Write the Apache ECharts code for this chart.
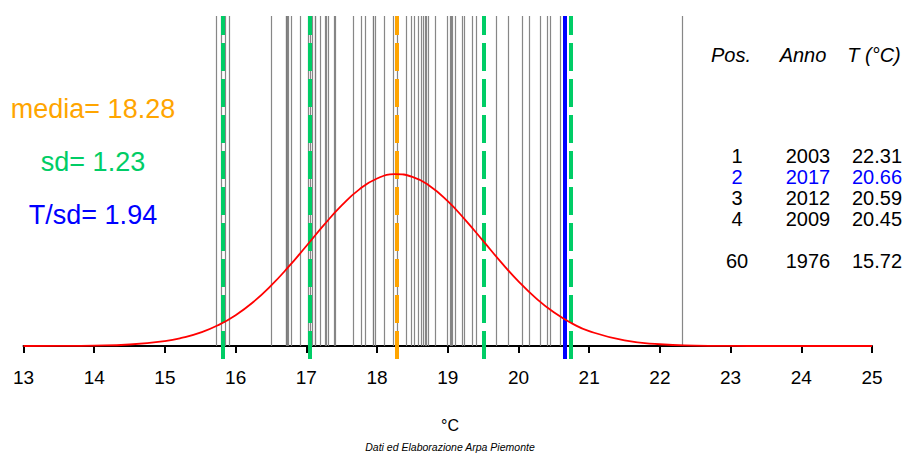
<!DOCTYPE html>
<html>
<head>
<meta charset="utf-8">
<script src="https://cdn.jsdelivr.net/npm/echarts@6/dist/echarts.min.js"></script>
<style>html,body{margin:0;padding:0;background:#fff}#c{width:908px;height:453px}</style>
</head>
<body>
<div id="c"></div>
<script>
// ---- data ----
const temps = [15.72, 15.80, 15.85, 15.91, 16.51, 16.71, 16.72, 16.73, 16.75, 16.79, 16.91,
  17.03, 17.05, 17.09, 17.12, 17.13, 17.20, 17.27, 17.28, 17.31, 17.40, 17.41, 17.66, 17.78,
  17.83, 17.94, 17.95, 17.98, 18.10, 18.23, 18.28, 18.41, 18.48, 18.53, 18.58, 18.63, 18.65,
  18.68, 18.70, 18.72, 18.82, 18.99, 19.03, 19.05, 19.07, 19.10, 19.21, 19.24, 19.34, 19.41,
  19.68, 19.86, 20.05, 20.15, 20.31, 20.41, 20.45, 20.59, 20.66, 22.31];
const curveX = [13, 13.5, 14, 14.5, 15, 15.25, 15.5, 15.75, 16, 16.25, 16.5, 16.75, 17, 17.25,
  17.5, 17.75, 18, 18.25, 18.5, 18.75, 19, 19.25, 19.5, 19.75, 20, 20.25, 20.5, 20.75, 21,
  21.5, 22, 22.5, 23, 23.5, 24, 25];
const curveY = [0.00003, 0.00017, 0.00076, 0.00289, 0.00926, 0.0156, 0.0252, 0.0391, 0.0582,
  0.0831, 0.1138, 0.1496, 0.1887, 0.2284, 0.2652, 0.2955, 0.3160, 0.3242, 0.3191, 0.3015,
  0.2733, 0.2376, 0.1983, 0.1588, 0.1220, 0.0899, 0.0636, 0.0432, 0.0281, 0.0105, 0.00335,
  0.00090, 0.00021, 0.00004, 0.00001, 0];
const sdLines = [15.82, 17.05, 19.51, 20.74];
const meanVal = 18.28;
const currentVal = 20.66;
const statLabels = ['media= 18.28', 'sd= 1.23', 'T/sd= 1.94'];
const tableHeaders = ['Pos.', 'Anno', 'T (°C)'];
const tablePos = ['1', '2', '3', '4', '60'];
const tableYears = ['2003', '2017', '2012', '2009', '1976'];
const tableTemps = ['22.31', '20.66', '20.59', '20.45', '15.72'];
const xTitle = '°C';
const caption = 'Dati ed Elaborazione Arpa Piemonte';

// ---- chart ----
const FONT = "'Liberation Sans', Arial, Helvetica, sans-serif";
const YMAX = 0.6226, YMIN = -0.0245;
const chart = echarts.init(document.getElementById('c'), null, {renderer: 'svg'});

function txt(text, x, y, size, color, italic, alignH) {
  return {
    type: 'text', silent: true,
    style: {
      text: text, x: x, y: y, fill: color,
      font: (italic ? 'italic ' : '') + size + 'px ' + FONT,
      align: alignH || 'center', verticalAlign: 'middle',
      textAlign: alignH || 'center', textVerticalAlign: 'middle'
    }
  };
}
const graphics = [];
const statColors = ['#FFA500', '#00CD66', '#0000FF'];
const statY = [109, 162, 215];
statLabels.forEach((s, i) => graphics.push(txt(s, 93, statY[i], 27, statColors[i], false)));
const colX = [737, 808, 877];
const headX = [731, 803, 874];
tableHeaders.forEach((h, i) => graphics.push(txt(h, headX[i], 55, 20, '#000', true)));
const rowY = [156, 177, 198, 219, 261];
tablePos.forEach((p, i) => {
  const col = tableTemps[i] === String(currentVal) ? '#0000FF' : '#000';
  graphics.push(txt(p, colX[0], rowY[i], 20, col, false));
  graphics.push(txt(tableYears[i], colX[1], rowY[i], 20, col, false));
  graphics.push(txt(tableTemps[i], colX[2], rowY[i], 20, col, false));
});
graphics.push(txt(xTitle, 450, 425, 16, '#000', false));
graphics.push(txt(caption, 450, 447, 10.5, '#000', true));

function vline(v) { return {xAxis: v}; }

chart.setOption({
  animation: false,
  backgroundColor: '#fff',
  grid: {left: 23.5, right: 36, top: 16, bottom: 94, containLabel: false},
  xAxis: {
    type: 'value', min: 13, max: 25, interval: 1,
    axisLine: {show: true, onZero: true, lineStyle: {color: '#000', width: 2}},
    axisTick: {show: true, length: 7, lineStyle: {color: '#000', width: 2}},
    axisLabel: {show: true, margin: 9, fontSize: 19, color: '#000', fontFamily: FONT},
    splitLine: {show: false}
  },
  yAxis: {
    type: 'value', min: YMIN, max: YMAX, show: false,
    axisLine: {show: false}, splitLine: {show: false}
  },
  graphic: graphics,
  series: [
    {
      type: 'line', data: [], silent: true, z: 2,
      markLine: {
        silent: true, symbol: ['none', 'none'], label: {show: false},
        lineStyle: {color: '#7a7a7a', width: 1.2, type: 'solid', opacity: 0.9},
        data: temps.map(v => [{coord: [v, 0]}, {coord: [v, YMAX]}])
      }
    },
    {
      type: 'line', data: [], silent: true, z: 3,
      markLine: {
        silent: true, symbol: ['none', 'none'], label: {show: false},
        lineStyle: {color: '#00CD66', width: 4, type: [28, 8]},
        data: sdLines.map(vline)
      }
    },
    {
      type: 'line', data: [], silent: true, z: 3,
      markLine: {
        silent: true, symbol: ['none', 'none'], label: {show: false},
        lineStyle: {color: '#FFA500', width: 4, type: [28, 8]},
        data: [vline(meanVal)]
      }
    },
    {
      type: 'line', data: [], silent: true, z: 3,
      markLine: {
        silent: true, symbol: ['none', 'none'], label: {show: false},
        lineStyle: {color: '#0000FF', width: 4, type: 'solid'},
        data: [vline(currentVal)]
      }
    },
    {
      type: 'line', silent: true, z: 5, smooth: true, showSymbol: false,
      lineStyle: {color: '#FF0000', width: 1.8},
      data: curveX.map((x, i) => [x, curveY[i]])
    }
  ]
});
</script>
</body>
</html>
